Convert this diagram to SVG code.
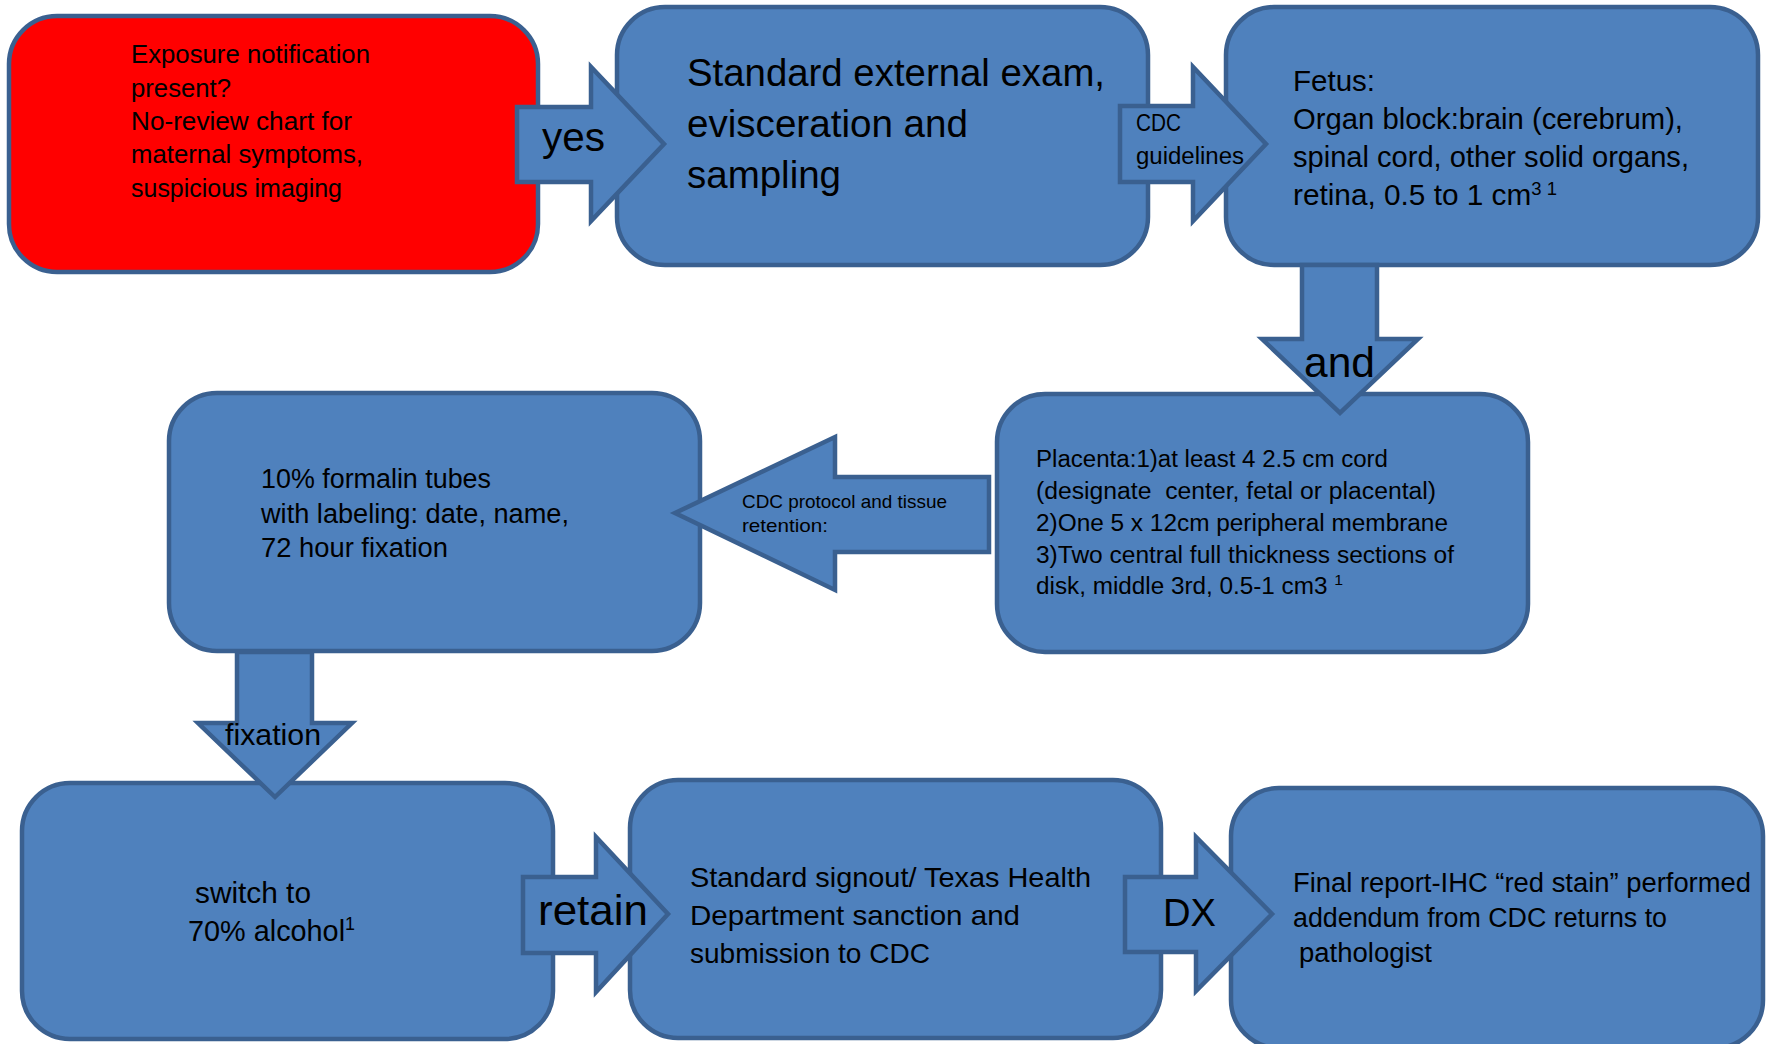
<svg xmlns="http://www.w3.org/2000/svg" width="1769" height="1044" viewBox="0 0 1769 1044">
<style>
.box{fill:#4F81BD;stroke:#3A6090;stroke-width:4.5}
.red{fill:#FF0000;stroke:#3A6090;stroke-width:4.5}
.arr{fill:#4F81BD;stroke:#3A6090;stroke-width:4.5;stroke-linejoin:miter}
text{font-family:"Liberation Sans",Arial,sans-serif;fill:#000}
</style>
<rect width="1769" height="1044" fill="#fff"/>
<g id="n1">
<rect class="red" x="9" y="16" width="529" height="256" rx="48"/>
<text font-size="25.5" x="131" y="63" textLength="239" lengthAdjust="spacingAndGlyphs">Exposure notification</text>
<text font-size="25.5" x="131" y="97" textLength="100" lengthAdjust="spacingAndGlyphs">present?</text>
<text font-size="25.5" x="131" y="130" textLength="221" lengthAdjust="spacingAndGlyphs">No-review chart for</text>
<text font-size="25.5" x="131" y="163" textLength="232" lengthAdjust="spacingAndGlyphs">maternal symptoms,</text>
<text font-size="25.5" x="131" y="197" textLength="211" lengthAdjust="spacingAndGlyphs">suspicious imaging</text>
</g>
<g id="n2">
<rect class="box" x="617" y="7" width="531" height="258" rx="48"/>
<text font-size="38" x="687" y="86" textLength="418" lengthAdjust="spacingAndGlyphs">Standard external exam,</text>
<text font-size="38" x="687" y="137" textLength="281" lengthAdjust="spacingAndGlyphs">evisceration and</text>
<text font-size="38" x="687" y="188" textLength="154" lengthAdjust="spacingAndGlyphs">sampling</text>
</g>
<g id="n3">
<rect class="box" x="1226" y="7" width="532" height="258" rx="48"/>
<text font-size="29" x="1293" y="91" textLength="82" lengthAdjust="spacingAndGlyphs">Fetus:</text>
<text font-size="29" x="1293" y="129" textLength="390" lengthAdjust="spacingAndGlyphs">Organ block:brain (cerebrum),</text>
<text font-size="29" x="1293" y="167" textLength="396" lengthAdjust="spacingAndGlyphs">spinal cord, other solid organs,</text>
<text font-size="29" x="1293" y="205" textLength="264" lengthAdjust="spacingAndGlyphs">retina, 0.5 to 1 cm<tspan font-size="18" dy="-10">3 1</tspan></text>
</g>
<g id="n4">
<rect class="box" x="997" y="394" width="531" height="258" rx="48"/>
<text font-size="23" x="1036" y="467" textLength="352" lengthAdjust="spacingAndGlyphs">Placenta:1)at least 4 2.5 cm cord</text>
<text font-size="23" x="1036" y="499" textLength="400" lengthAdjust="spacingAndGlyphs">(designate&#160; center, fetal or placental)</text>
<text font-size="23" x="1036" y="531" textLength="412" lengthAdjust="spacingAndGlyphs">2)One 5 x 12cm peripheral membrane</text>
<text font-size="23" x="1036" y="563" textLength="418" lengthAdjust="spacingAndGlyphs">3)Two central full thickness sections of</text>
<text font-size="23" x="1036" y="594" textLength="307" lengthAdjust="spacingAndGlyphs">disk, middle 3rd, 0.5-1 cm3 <tspan font-size="15" dy="-9">1</tspan></text>
</g>
<g id="n5">
<rect class="box" x="169" y="393" width="531" height="258" rx="48"/>
<text font-size="27" x="261" y="488" textLength="230" lengthAdjust="spacingAndGlyphs">10% formalin tubes</text>
<text font-size="27" x="261" y="523" textLength="308" lengthAdjust="spacingAndGlyphs">with labeling: date, name,</text>
<text font-size="27" x="261" y="557" textLength="187" lengthAdjust="spacingAndGlyphs">72 hour fixation</text>
</g>
<g id="n6">
<rect class="box" x="22" y="783" width="531" height="256" rx="48"/>
<text font-size="29" x="195" y="903" textLength="116" lengthAdjust="spacingAndGlyphs">switch to</text>
<text font-size="29" x="188" y="941" textLength="167" lengthAdjust="spacingAndGlyphs">70% alcohol<tspan font-size="18" dy="-11">1</tspan></text>
</g>
<g id="n7">
<rect class="box" x="630" y="780" width="531" height="258" rx="48"/>
<text font-size="28.5" x="690" y="887" textLength="401" lengthAdjust="spacingAndGlyphs">Standard signout/ Texas Health</text>
<text font-size="28.5" x="690" y="925" textLength="330" lengthAdjust="spacingAndGlyphs">Department sanction and</text>
<text font-size="28.5" x="690" y="963" textLength="240" lengthAdjust="spacingAndGlyphs">submission to CDC</text>
</g>
<g id="n8">
<rect class="box" x="1231" y="788" width="532" height="260" rx="48"/>
<text font-size="27" x="1293" y="892" textLength="458" lengthAdjust="spacingAndGlyphs">Final report-IHC “red stain” performed</text>
<text font-size="27" x="1293" y="927" textLength="374" lengthAdjust="spacingAndGlyphs">addendum from CDC returns to</text>
<text font-size="27" x="1299" y="962" textLength="133" lengthAdjust="spacingAndGlyphs">pathologist</text>
</g>
<g id="connectors">
<g id="c-yes">
<polygon class="arr" points="517,107 591,107 591,67 664,144 591,221 591,182 517,182"/>
<text font-size="40" x="542" y="151" textLength="63" lengthAdjust="spacingAndGlyphs">yes</text>
</g>
<g id="c-cdc">
<polygon class="arr" points="1120,106 1193,106 1193,67 1266,144 1193,221 1193,182 1120,182"/>
<text font-size="23.5" x="1136" y="131" textLength="45" lengthAdjust="spacingAndGlyphs">CDC</text>
<text font-size="23.5" x="1136" y="164" textLength="108" lengthAdjust="spacingAndGlyphs">guidelines</text>
</g>
<g id="c-and">
<polygon class="arr" points="1302,265 1377,265 1377,339 1418,339 1340,413 1262,339 1302,339"/>
<text font-size="42" x="1304" y="377" textLength="71" lengthAdjust="spacingAndGlyphs">and</text>
</g>
<g id="c-protocol">
<polygon class="arr" points="989,477 835,477 835,437 675,513 835,590 835,552 989,552"/>
<text font-size="18.5" x="742" y="508" textLength="205" lengthAdjust="spacingAndGlyphs">CDC protocol and tissue</text>
<text font-size="18.5" x="742" y="532" textLength="86" lengthAdjust="spacingAndGlyphs">retention:</text>
</g>
<g id="c-fixation">
<polygon class="arr" points="237,652 312,652 312,723 352,723 275,797 198,723 237,723"/>
<text font-size="29" x="225" y="745" textLength="96" lengthAdjust="spacingAndGlyphs">fixation</text>
</g>
<g id="c-retain">
<polygon class="arr" points="523,877 596,877 596,837 668,914 596,992 596,953 523,953"/>
<text font-size="42" x="538" y="925" textLength="110" lengthAdjust="spacingAndGlyphs">retain</text>
</g>
<g id="c-dx">
<polygon class="arr" points="1125,877 1196,877 1196,837 1272,914 1196,991 1196,952 1125,952"/>
<text font-size="39" x="1163" y="926" textLength="53" lengthAdjust="spacingAndGlyphs">DX</text>
</g>
</g>
</svg>
